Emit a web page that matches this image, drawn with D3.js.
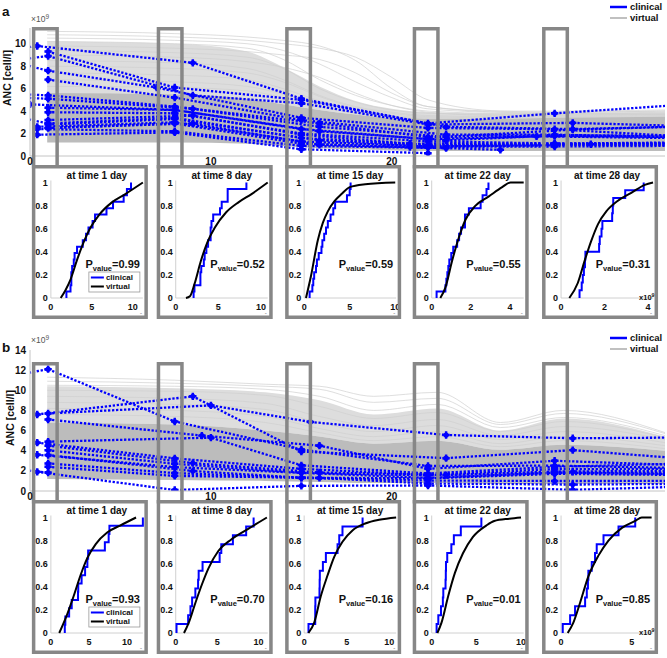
<!DOCTYPE html>
<html><head><meta charset="utf-8">
<script src="https://cdn.jsdelivr.net/npm/d3@7"></script>
<style>
body{margin:0;background:#fff}
text{font-family:"Liberation Sans",Arial,sans-serif;font-weight:bold;fill:#111}
</style>
</head><body><svg id="c" width="667" height="658"></svg>
<script>
// ---------------- DATA ----------------
const boxDays = [0.85, 7.75, 14.85, 21.9, 29.05];
const boxTitles = ["at time 1 day","at time 8 day","at time 15 day","at time 22 day","at time 28 day"];
const visitWindows = [[-0.1,2.5],[6.5,10.5],[13.5,17],[20.5,24],[27.5,31.5]];
const yTicksA = [0,2,4,6,8,10];
const yTicksB = [0,2,4,6,8,10,12,14];
const xTicksMain = [0,10,20];
const ecdfTicksY = [0,0.2,0.4,0.6,0.8,1];
const pValuesA = ["0.99","0.52","0.59","0.55","0.31"];
const pValuesB = ["0.93","0.70","0.16","0.01","0.85"];
const insetXMaxA = [11.25, 10.8, 10.1, 4.7, 4.23];
const insetXMaxB = [12.1, 11.1, 10.8, 10.3, 6.5];
const insetXTicksA = [[0,5,10],[0,5,10],[0,5,10],[0,2,4],[0,2,4]];
const insetXTicksB = [[0,5,10],[0,5,10],[0,5,10],[0,5,10],[0,5]];

// clinical patients, panel a: [day, ANC x1e9]
const clinicalA = [
 [[-0.5,9.6],[0.4,9.8],[9,8.3],[15,5.1],[22,2.9],[29,3.8],[35.5,4.5]],
 [[1,9.3],[8,6.1],[15,5.0],[23,2.6],[30,2.4],[35.5,2.6]],
 [[-0.5,8.6],[1,8.9],[9,5.4],[15,4.7],[22,2.8],[30,2.95],[35.5,2.7]],
 [[-0.5,8.2],[1,7.6],[7,6.1],[15,3.4],[22,2.5],[29,2.38],[35.5,1.8]],
 [[1,6.8],[8,5.2],[15,3.2],[23,1.9],[29,1.9],[35.5,1.7]],
 [[-0.5,5.5],[1,5.4],[8,4.4],[16,2.9],[22,1.7],[29,1.86],[35.5,1.8]],
 [[-0.5,5.2],[1,5.1],[9,4.2],[16,2.6],[23,1.7],[30,2.35],[35.5,2.6]],
 [[0,4.6],[8,4.1],[15,2.4],[22,1.5],[29,1.78],[35.5,1.7]],
 [[1,4.3],[8,4.1],[16,2.2],[23,1.4],[28,1.75],[35.5,1.6]],
 [[1,3.9],[8,3.8],[15,2.0],[22,1.3],[29,1.12],[35.5,1.15]],
 [[1,3.2],[9,3.6],[15,1.9],[21,1.1],[29,1.1],[35.5,1.2]],
 [[-0.5,3.4],[1,2.9],[8,3.4],[15,1.6],[22,1.0],[31,1.05],[35.5,1.1]],
 [[1,2.8],[8,3.3],[16,1.4],[22,0.9],[29,1.0],[35.5,1.0]],
 [[0.4,2.6],[8,3.0],[15,1.3],[22,0.85],[29,0.95]],
 [[1,2.5],[8,2.9],[15,1.1],[21,0.8],[29,0.85],[35.5,0.9]],
 [[1,2.5],[9,2.9],[16,1.0],[22,0.75],[26,0.55]],
 [[0.4,2.4],[8,2.2],[15,0.9],[23,0.7]],
 [[0.4,1.9],[8,2.1],[15,0.6],[22,0.25]]
];
// clinical patients, panel b
const clinicalB = [
 [[-0.5,11.6],[1,12.1],[8,6.9],[15,4.12],[22,2.48],[29,2.52],[35.5,2.3]],
 [[0.4,7.6],[9,9.4],[15,3.92],[23,3.26],[30,4.06],[35.5,3.3]],
 [[1,7.7],[10,8.5],[15.5,6.86],[23,5.56],[30,5.24],[35.5,5.3]],
 [[1,7.1],[9.5,5.5],[16,4.5],[22,2.2],[29,3.0],[35.5,2.6]],
 [[1,4.9],[10,5.3],[15,2.55],[22,1.74],[29,2.4],[35.5,2.7]],
 [[0.4,4.8],[8,3.24],[15,2.2],[22,1.6],[29,2.17],[35.5,2.2]],
 [[1,4.5],[9,2.77],[16,1.84],[23,1.58],[29,1.93],[35.5,2.0]],
 [[1,4.04],[8,2.7],[15,1.82],[22,1.55],[30,1.9],[35.5,1.8]],
 [[0.4,3.6],[8,2.37],[15,1.8],[22,1.3],[29,1.82],[35.5,1.7]],
 [[1,3.57],[9,1.98],[15,1.32],[22,1.25],[29,1.7],[35.5,1.6]],
 [[1,2.74],[8,1.78],[15,1.3],[22,1.04],[29,0.99],[35.5,1.0]],
 [[1,2.4],[8,1.5],[16,1.3],[22,0.74],[30,0.64],[35.5,0.7]],
 [[0.4,1.9],[8,0.1],[15,0.51],[22,0.55],[30,0.12],[35.5,0.4]],
 [[-0.5,2.1],[1,1.83]]
];

// virtual population, panel a
const virtualDaysA = [0.95, 8, 12, 14, 16, 18, 20, 22, 26, 29, 35.1];
const coreLowA  = [1.2, 1.2, 1.1, 0.9, 0.7, 0.6, 0.5, 0.45, 0.45, 0.45, 0.45];
const coreHighA = [5.6, 5.5, 5.1, 4.6, 4.1, 3.7, 3.4, 3.3, 3.3, 3.4, 3.5];
const midHighA  = [10.2, 10.0, 9.3, 7.9, 6.2, 4.9, 4.2, 3.9, 3.8, 3.8, 3.9];
const virtualLinesA = [
 [11.1,10.9,10.6,10.3,9.8,8.5,6.0,4.4,4.0,4.0,4.1],
 [10.8,10.6,10.3,10.0,9.6,8.8,7.0,5.0,4.0,3.9,4.0],
 [10.5,10.3,10.0,9.4,8.2,6.6,5.2,4.2,3.9,3.9,4.0],
 [10.2,10.0,9.6,8.6,6.8,5.4,4.5,4.0,3.8,3.8,3.9],
 [9.8,9.6,9.3,9.0,8.6,7.4,5.6,4.4,3.9,3.8,3.8],
 [9.4,9.2,8.8,7.8,6.0,4.8,4.1,3.8,3.7,3.7,3.7],
 [9.0,8.8,8.4,7.9,7.0,5.6,4.5,3.9,3.6,3.6,3.7],
 [8.5,8.3,7.8,6.8,5.4,4.4,3.9,3.6,3.5,3.5,3.6],
 [8.0,7.8,7.4,6.6,5.3,4.3,3.8,3.5,3.4,3.4,3.5],
 [7.4,7.2,6.8,6.0,4.9,4.0,3.6,3.4,3.3,3.3,3.4],
 [6.8,6.6,6.2,5.5,4.6,3.9,3.5,3.3,3.2,3.2,3.3],
 [6.2,6.1,5.8,5.2,4.4,3.8,3.4,3.2,3.2,3.2,3.3]
];
// virtual population, panel b
const virtualDaysB = [0.95, 8, 13, 16, 19, 22.5, 26, 29.5, 35.1];
const coreLowB  = [1.2, 1.1, 1.0, 0.9, 0.8, 0.8, 0.7, 0.7, 0.7];
const coreHighB = [6.8, 6.6, 6.0, 5.4, 4.7, 5.0, 4.1, 4.6, 4.0];
const midHighB  = [10.4, 10.2, 9.8, 9.0, 7.6, 8.2, 6.0, 7.2, 5.4];
const virtualLinesB = [
 [11.3,11.0,10.6,10.4,9.4,9.8,6.8,8.0,5.8],
 [10.9,10.7,10.4,10.1,8.8,9.2,6.6,7.7,5.7],
 [10.5,10.4,10.1,9.4,8.0,8.6,6.3,7.3,5.5],
 [10.0,9.9,9.5,8.4,7.2,7.8,5.9,6.9,5.3],
 [9.4,9.2,8.7,7.4,6.5,7.1,5.5,6.4,5.1],
 [8.8,8.6,8.1,6.8,5.9,6.5,5.1,5.9,4.8],
 [8.2,8.0,7.4,6.2,5.4,5.9,4.7,5.4,4.5],
 [7.6,7.4,6.8,5.8,5.0,5.4,4.4,5.0,4.2]
];
// virtual ECDF curves [value, F]
const virtualEcdfA = [
 [[1.2,0],[1.8,0.07],[2.4,0.16],[3.2,0.33],[4.05,0.49],[4.85,0.61],[5.9,0.72],[7.5,0.83],[9.1,0.9],[11.25,1.0]],
 [[1.2,0],[1.67,0.015],[2.2,0.12],[2.95,0.32],[3.7,0.48],[4.6,0.61],[5.9,0.74],[7.4,0.83],[8.9,0.9],[10.8,1.0]],
 [[0.2,0],[0.75,0.19],[1.5,0.5],[2.05,0.65],[2.6,0.75],[3.35,0.84],[4.1,0.9],[5.0,0.96],[6.7,0.985],[10,1.0]],
 [[0.44,0],[0.7,0.09],[1.04,0.32],[1.38,0.52],[1.73,0.68],[2.24,0.8],[2.92,0.88],[3.6,0.96],[4.03,1.0],[4.7,1.0]],
 [[0.38,0],[0.77,0.13],[1.08,0.32],[1.38,0.49],[1.7,0.64],[2.08,0.75],[2.6,0.84],[3.23,0.91],[3.85,0.98],[4.23,1.0]]
];
const virtualEcdfB = [
 [[1.1,0],[1.96,0.13],[3.0,0.32],[3.9,0.5],[4.8,0.65],[5.9,0.77],[7.4,0.87],[9.1,0.93],[11.2,1.0]],
 [[1.0,0],[1.58,0.09],[2.37,0.26],[3.16,0.42],[3.95,0.56],[5.14,0.71],[6.7,0.81],[8.7,0.9],[11,1.0]],
 [[0.5,0],[1.18,0.09],[1.96,0.32],[2.75,0.5],[3.53,0.66],[4.5,0.79],[5.7,0.89],[7.25,0.95],[8.8,0.98],[10.8,1.0]],
 [[0.63,0],[1.1,0.09],[1.85,0.32],[2.6,0.52],[3.5,0.69],[4.6,0.83],[6.1,0.93],[7.0,0.97],[8.7,0.99],[10,1.0]],
 [[0.47,0],[0.87,0.09],[1.34,0.26],[1.93,0.49],[2.64,0.67],[3.35,0.8],[4.3,0.91],[5.24,0.97],[5.7,1.0],[6.4,1.0]]
];

// ---------------- DRAWING ----------------
const svg = d3.select("#c");
const BLUE = "#0000ff", BOXGRAY = "#878787", AXGRAY = "#c4c4c4";
const x = d3.scaleLinear().domain([0,35.1]).range([30,665]);

const panels = [
 {name:"a", label:"a", labelY:16, y:d3.scaleLinear().domain([0,11.4]).range([156,28]), yTicks:yTicksA,
  clinical:clinicalA, vdays:virtualDaysA, coreLow:coreLowA, coreHigh:coreHighA, midHigh:midHighA, vlines:virtualLinesA,
  boxTop:27, insetTop:165, xLabY:165, expY:22, ylabY:78, ylabX:11, legY:7,
  pvals:pValuesA, xmax:insetXMaxA, xticks:insetXTicksA, vecdf:virtualEcdfA},
 {name:"b", label:"b", labelY:352, y:d3.scaleLinear().domain([0,14]).range([491,350]), yTicks:yTicksB,
  clinical:clinicalB, vdays:virtualDaysB, coreLow:coreLowB, coreHigh:coreHighB, midHigh:midHighB, vlines:virtualLinesB,
  boxTop:362, insetTop:500, xLabY:500, expY:343, ylabY:418, ylabX:14, legY:338,
  pvals:pValuesB, xmax:insetXMaxB, xticks:insetXTicksB, vecdf:virtualEcdfB}
];

panels.forEach(p => {
  const y = p.y;
  const g = svg.append("g");
  const clipId = "clip" + p.name;
  svg.append("clipPath").attr("id", clipId).append("rect")
    .attr("x", 30).attr("y", y.range()[1] - 30).attr("width", 635).attr("height", y.range()[0] - y.range()[1] + 30);
  const dg = g.append("g").attr("clip-path", `url(#${clipId})`);
  const vx = p.vdays;
  const band = (lo, hi) => d3.area().x((d,i)=>x(vx[i])).y0((d,i)=>y(lo[i])).y1((d,i)=>y(hi[i])).curve(d3.curveMonotoneX)(vx);
  dg.append("path").attr("d", band(p.coreHigh, p.midHigh)).attr("fill", "#dddddd");
  const vline = d3.line().x((d,i)=>x(vx[i])).y(d=>y(d)).curve(d3.curveMonotoneX);
  p.vlines.forEach(l => dg.append("path").attr("d", vline(l)).attr("fill","none").attr("stroke","#d0d0d0").attr("stroke-width",0.7));
  dg.append("path").attr("d", band(p.coreLow, p.coreHigh)).attr("fill", "#bcbcbc");

  // axes
  g.append("line").attr("x1",30).attr("x2",665).attr("y1",y(0)).attr("y2",y(0)).attr("stroke",AXGRAY).attr("stroke-width",1);
  g.append("line").attr("x1",30).attr("x2",30).attr("y1",y(0)).attr("y2",y.range()[1]).attr("stroke",AXGRAY).attr("stroke-width",1);
  p.yTicks.forEach(t => g.append("text").attr("x",26).attr("y",y(t)).attr("dy","0.35em")
      .attr("text-anchor","end").attr("font-size",10).text(t));
  g.append("text").attr("transform",`translate(${p.ylabX},${p.ylabY}) rotate(-90)`).attr("text-anchor","middle")
    .attr("font-size",10.5).text("ANC [cell/l]");
  const ex = g.append("text").attr("x",31).attr("y",p.expY).attr("font-size",8.5).style("font-weight","normal").style("fill","#555");
  ex.append("tspan").text("×10");
  ex.append("tspan").attr("dy",-3).attr("font-size",6.5).text("9");
  g.append("text").attr("x",2).attr("y",p.labelY).attr("font-size",13.5).text(p.label);

  // clinical
  const cline = d3.line().x(d=>x(d[0])).y(d=>y(d[1]));
  p.clinical.forEach(pts => dg.append("path").attr("d", cline(pts)).attr("fill","none")
      .attr("stroke",BLUE).attr("stroke-width",2.3).attr("stroke-dasharray","2.3 1.7"));
  const sym = d3.symbol().type(d3.symbolCross).size(30);
  p.clinical.forEach(pts => pts.filter(d => d[0] >= -0.1 && d[0] <= 35.1).forEach(d => {
    dg.append("path").attr("d", sym()).attr("transform",`translate(${x(d[0])},${y(d[1])})`).attr("fill",BLUE);
    dg.append("circle").attr("cx",x(d[0])).attr("cy",y(d[1])).attr("r",2.6).attr("fill",BLUE);
  }));

  // legend
  g.append("line").attr("x1",610).attr("x2",627).attr("y1",p.legY).attr("y2",p.legY).attr("stroke",BLUE).attr("stroke-width",2.5);
  g.append("text").attr("x",630).attr("y",p.legY).attr("dy","0.35em").attr("font-size",9.5).text("clinical");
  g.append("line").attr("x1",610).attr("x2",627).attr("y1",p.legY+11).attr("y2",p.legY+11).attr("stroke","#c0c0c0").attr("stroke-width",2);
  g.append("text").attr("x",630).attr("y",p.legY+11).attr("dy","0.35em").attr("font-size",9.5).text("virtual");

  // tall boxes
  boxDays.forEach(bd => {
    const left = x(bd) - 13.5;
    g.append("rect").attr("x",left+1.75).attr("y",p.boxTop+1.75).attr("width",27-3.5).attr("height",p.insetTop-p.boxTop)
      .attr("fill","none").attr("stroke",BOXGRAY).attr("stroke-width",3.5);
  });

  // insets
  boxDays.forEach((bd, i) => {
    const left = x(bd) - 13.5, top = p.insetTop, w = 116, h = 154;
    const ig = svg.append("g");
    ig.append("rect").attr("x",left+1.75).attr("y",top+1.75).attr("width",w-3.5).attr("height",h-3.5)
      .attr("fill","#fff").attr("stroke","none");
    const ix = d3.scaleLinear().domain([0,p.xmax[i]]).range([left+19,left+111]);
    const iy = d3.scaleLinear().domain([0,1]).range([top+133,top+17.5]);
    ig.append("line").attr("x1",ix(0)).attr("x2",ix(0)).attr("y1",iy(0)).attr("y2",iy(1)-2).attr("stroke",AXGRAY).attr("stroke-width",0.8);
    ig.append("line").attr("x1",ix(0)).attr("x2",ix.range()[1]).attr("y1",iy(0)).attr("y2",iy(0)).attr("stroke",AXGRAY).attr("stroke-width",0.8);
    ecdfTicksY.forEach(t => ig.append("text").attr("x",ix(0)-3).attr("y",iy(t)).attr("dy","0.35em")
        .attr("text-anchor","end").attr("font-size",9).text(t));
    p.xticks[i].forEach(t => ig.append("text").attr("x",ix(t)).attr("y",top+144.5)
        .attr("text-anchor","middle").attr("font-size",9).text(t));
    ig.append("text").attr("x",(ix.range()[0]+ix.range()[1])/2).attr("y",top+14).attr("text-anchor","middle")
      .attr("font-size",10).text(boxTitles[i]);
    // clinical ECDF
    const w0 = visitWindows[i];
    const vals = p.clinical.map(pts => pts.find(d => d[0] >= w0[0] && d[0] <= w0[1])).filter(Boolean).map(d=>d[1]).sort(d3.ascending);
    const n = vals.length;
    const steps = [[vals[0],0]].concat(vals.map((v,k)=>[v,(k+1)/n]));
    ig.append("path").attr("d", d3.line().x(d=>ix(d[0])).y(d=>iy(d[1])).curve(d3.curveStepAfter)(steps))
      .attr("fill","none").attr("stroke",BLUE).attr("stroke-width",2);
    // virtual ECDF
    ig.append("path").attr("d", d3.line().x(d=>ix(d[0])).y(d=>iy(d[1])).curve(d3.curveMonotoneX)(p.vecdf[i]))
      .attr("fill","none").attr("stroke","#000").attr("stroke-width",2);
    // p value
    const pt = ig.append("text").attr("x",left+108).attr("y",top+103).attr("text-anchor","end").attr("font-size",11);
    pt.append("tspan").text("P");
    pt.append("tspan").attr("font-size",7.5).attr("dy",3).text("value");
    pt.append("tspan").attr("dy",-3).text("=" + p.pvals[i]);
    ig.append("text").attr("x",left+109).attr("y",top+150).attr("text-anchor","middle").attr("font-size",6).style("fill","#999").text("-");
    if (i === 4) {
      const e = ig.append("text").attr("x",left+97).attr("y",top+135).attr("font-size",7.5);
      e.append("tspan").text("x10");
      e.append("tspan").attr("dy",-3).attr("font-size",5.5).text("9");
    }
    if (i === 0) {
      const lg = ig.append("g");
      lg.append("rect").attr("x",left+57).attr("y",top+107).attr("width",51).attr("height",20)
        .attr("fill","#fff").attr("stroke","#999").attr("stroke-width",0.8);
      lg.append("line").attr("x1",left+59).attr("x2",left+72).attr("y1",top+112.5).attr("y2",top+112.5).attr("stroke",BLUE).attr("stroke-width",2);
      lg.append("text").attr("x",left+74).attr("y",top+112.5).attr("dy","0.35em").attr("font-size",8).text("clinical");
      lg.append("line").attr("x1",left+59).attr("x2",left+72).attr("y1",top+121.5).attr("y2",top+121.5).attr("stroke","#000").attr("stroke-width",2);
      lg.append("text").attr("x",left+74).attr("y",top+121.5).attr("dy","0.35em").attr("font-size",8).text("virtual");
    }
    // frame on top
    ig.append("rect").attr("x",left+1.75).attr("y",top+1.75).attr("width",w-3.5).attr("height",h-3.5)
      .attr("fill","none").attr("stroke",BOXGRAY).attr("stroke-width",3.5);
  });

  // main x tick labels (on top)
  xTicksMain.forEach(t => svg.append("text").attr("x",x(t)).attr("y",p.xLabY).attr("text-anchor","middle")
      .attr("font-size",10).text(t));
});
</script></body></html>
